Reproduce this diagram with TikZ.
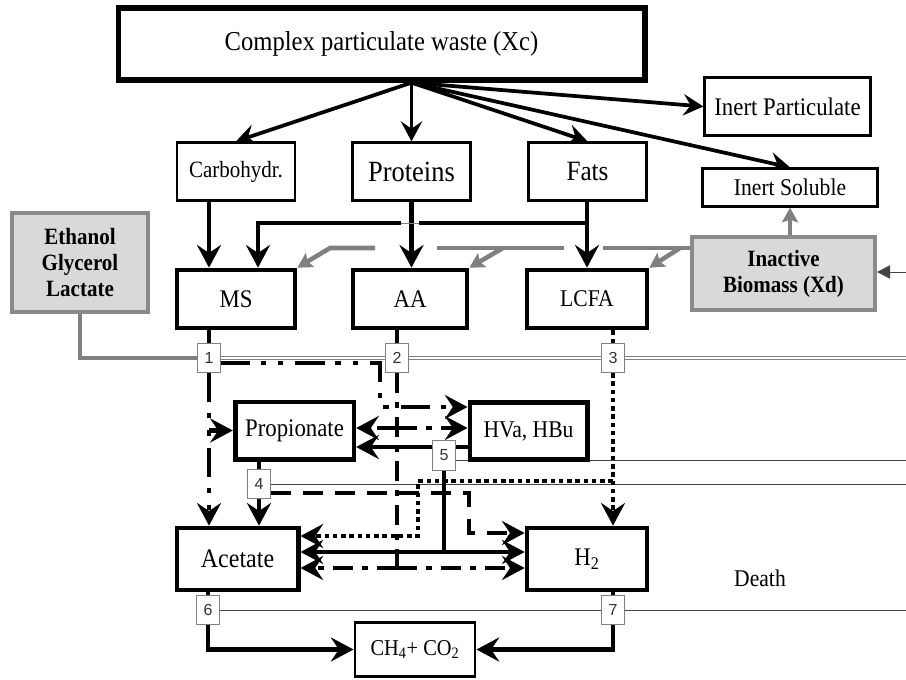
\documentclass[tikz,border=0pt]{standalone}
\usepackage{fontspec}
\setmainfont{Liberation Serif}[FakeStretch=0.9]
\setsansfont{Liberation Sans}
\usetikzlibrary{arrows.meta, calc, backgrounds}
\definecolor{linegray}{HTML}{808080}
\definecolor{boxgray}{HTML}{D9D9D9}
\definecolor{framegray}{HTML}{8A8A8A}
\definecolor{deathgray}{HTML}{444444}
\tikzset{
  bigbox/.style={
    rectangle, draw=black, line width=3.5pt, fill=white, inner sep=0pt,
    font=\fontsize{19}{20}\selectfont,
  },
  smallbox/.style={
    rectangle, draw=black, line width=2.2pt, fill=white, inner sep=0pt,
    font=\fontsize{18}{20}\selectfont,
  },
  extbox/.style={
    rectangle, draw=framegray, line width=3pt, fill=boxgray, inner sep=0pt,
    align=center, font=\bfseries\fontsize{17.5}{19.5}\selectfont,
  },
  numbox/.style={
    rectangle, draw=gray, line width=0.6pt, fill=white, inner sep=0pt,
    minimum width=17pt, minimum height=22pt,
    font=\sffamily\fontsize{12}{12}\selectfont, text=black!80,
  },
  headarrow/.style={-{Stealth[length=17pt, width=18pt, inset=6pt]}},
  hydro/.style={line width=2.8pt, -{Stealth[length=15pt, width=16pt, inset=5.5pt]}},
  thickline/.style={line width=3.4pt},
  gapline/.style={draw=linegray, line width=0.4pt},
  grayline/.style={draw=linegray, line width=3.4pt},
  graytip/.style={-{Stealth[length=11pt, width=12pt, inset=2pt]}},
  deathline/.style={draw=deathgray, line width=0.7pt},
  deathdouble/.style={draw=gray, line width=0.6pt, double=white, double distance=1.6pt},
  mspath/.style={line width=3.4pt, dash pattern=on 22pt off 8pt on 4pt off 9pt on 4pt off 9pt},
  aapath/.style={line width=3.4pt, dash pattern=on 15pt off 7pt on 4pt off 7pt},
  lcfapath/.style={line width=3.4pt, dash pattern=on 3.4pt off 2.8pt},
  proppath/.style={line width=3.4pt, dash pattern=on 15pt off 9pt},
}

\begin{document}
\begin{tikzpicture}[x=0.75pt, y=-0.75pt]
  \useasboundingbox (0,0) rectangle (906,679);

  % substrates
  \node[bigbox, line width=4pt, minimum width=395pt, minimum height=54pt, font=\fontsize{20.5}{22}\selectfont] (xc) at (381.5,44) {Complex particulate waste (Xc)};
  \node[smallbox, minimum width=124pt, minimum height=43pt, font=\fontsize{19}{20}\selectfont] (inpart) at (787.5,106.5) {Inert Particulate};
  \node[smallbox, minimum width=88.5pt, minimum height=43pt, font=\fontsize{17.5}{20}\selectfont] (carb) at (236,171.5) {Carbohydr.};
  \node[smallbox, minimum width=88pt, minimum height=43pt, font=\fontsize{22}{22}\selectfont] (prot) at (411.5,171.5) {Proteins};
  \node[smallbox, minimum width=89pt, minimum height=43pt, font=\fontsize{21}{22}\selectfont] (fats) at (587.5,171.5) {Fats};
  \node[smallbox, minimum width=131pt, minimum height=28pt] (insol) at (790,187.5) {Inert Soluble};
  \node[extbox, minimum width=102pt, minimum height=74pt] (etoh) at (80,262.5) {Ethanol\\Glycerol\\Lactate};
  \node[extbox, minimum width=137pt, minimum height=55pt] (bio) at (783.5,273.5) {Inactive\\Biomass (Xd)};

  % monomers
  \node[bigbox, minimum width=88.5pt, minimum height=43.5pt] (ms) at (236,299) {MS};
  \node[bigbox, minimum width=85.5pt, minimum height=43.5pt] (aa) at (410,299) {AA};
  \node[bigbox, minimum width=90pt, minimum height=43.5pt, font=\fontsize{18}{20}\selectfont] (lcfa) at (587,299) {LCFA};

  % process numbers
  \node[numbox] (n1) at (209,358) {1};
  \node[numbox] (n2) at (397,358) {2};
  \node[numbox] (n3) at (613,358) {3};
  \node[numbox] (n4) at (259,484) {4};
  \node[numbox] (n5) at (444,455.5) {5};
  \node[numbox] (n6) at (208,610) {6};
  \node[numbox] (n7) at (613,610) {7};

  % intermediates and products
  \node[bigbox, minimum width=89pt, minimum height=43pt] (prop) at (294.5,430.5) {Propionate};
  \node[bigbox, minimum width=88pt, minimum height=43pt, font=\fontsize{18}{20}\selectfont] (hva) at (528.5,431) {HVa, HBu};
  \node[bigbox, minimum width=91pt, minimum height=46.5pt, font=\fontsize{20}{20}\selectfont] (ace) at (237.5,559) {Acetate};
  \node[bigbox, minimum width=90pt, minimum height=46.5pt] (h2) at (587,559) {H\textsubscript{2}};
  \node[smallbox, minimum width=90pt, minimum height=40pt, font=\fontsize{17}{20}\selectfont] (ch4) at (415,649.5) {CH\textsubscript{4}+ CO\textsubscript{2}};
  \node[font=\fontsize{18}{20}\selectfont] (death) at (760,578) {Death};

  % helper points
  \coordinate (edge1) at (906,358);
  \coordinate (edge2) at (906,460);
  \coordinate (edge3) at (906,484);
  \coordinate (edge4) at (906,610);
  \coordinate (edge5) at (906,272);
  \coordinate (fatsjoin) at (587,223);
  \coordinate (fatsgap1) at (419,223);
  \coordinate (fatsgap2) at (401,223);
  \coordinate (gstart) at (692,248);
  \coordinate (ggap1a) at (603,248);
  \coordinate (ggap1b) at (564,248);
  \coordinate (ggap2a) at (437,248);
  \coordinate (ggap2b) at (375,248);
  \coordinate (gbr1) at (680,248);
  \coordinate (gbr2) at (503,248);
  \coordinate (gbr3) at (330,248);
  \coordinate (msturn) at (380,407);
  \coordinate (aasplit) at (397,428);
  \coordinate (aalow) at (397,568);
  \coordinate (lcfaturn) at (418,481);
  \coordinate (lcfalow) at (418,536);
  \coordinate (propturn) at (469,533);
  \coordinate (hvalow) at (444,552);

  \begin{scope}[on background layer]
    \fill[white] (0,0) rectangle (906,679);

    % disintegration
    \draw[hydro] (xc.south -| prot) -- (carb.north);
    \draw[hydro] (xc.south -| prot) -- (prot.north);
    \draw[hydro] (xc.south -| prot) -- (fats.north);
    \draw[hydro] (xc.south -| prot) -- (inpart.west);
    \draw[hydro] (xc.south -| prot) -- (insol.north);

    % hydrolysis
    \draw[thickline, headarrow] (carb.south -| n1) -- (ms.north -| n1);
    \draw[thickline, headarrow] (prot.south) -- (prot.south |- aa.north);
    \draw[thickline, headarrow] (fats.south -| lcfa) -- (lcfa.north);
    \draw[thickline] (fatsjoin) -- (fatsgap1);
    \draw[gapline] (fatsgap1) -- (fatsgap2);
    \draw[thickline, headarrow] (fatsgap2) -| ($(ms.north)+(22,0)$);

    % decay products
    \draw[grayline] (gstart) -- (ggap1a);
    \draw[grayline] (ggap1b) -- (ggap2a);
    \draw[grayline, graytip] (ggap2b) -- (gbr3) -- (ms.north east);
    \draw[grayline, graytip] (gbr2) -- (aa.north east);
    \draw[grayline, graytip] (gbr1) -- (lcfa.north east);
    \draw[grayline, graytip] (insol.south |- bio.north) -- (insol.south);
    \draw[grayline] (etoh.south) |- (n1.west);

    % death
    \draw[deathdouble] (n1.east) -- (n2.west);
    \draw[deathdouble] (n2.east) -- (n3.west);
    \draw[deathdouble] (n3.east) -- (edge1);
    \draw[deathline] (n5.east |- edge2) -- (edge2);
    \draw[deathline] (n4.east) -- (edge3);
    \draw[deathline] (n6.east) -- (n7.west);
    \draw[deathline] (n7.east) -- (edge4);
    \draw[deathline, -{Triangle[length=10pt, width=10pt]}] (edge5) -- (edge5 -| bio.east);

    % process 1
    \draw[thickline] (ms.south -| n1) -- (n1.north);
    \draw[mspath, headarrow] (n1.south) -- (n1.south |- ace.north);
    \draw[mspath, headarrow] (n1.south |- prop.west) -- (prop.west);
    \draw[mspath, headarrow] ($(n1.east)+(0,5)$) -| (msturn) -- (msturn -| hva.west);

    % process 2
    \draw[thickline] (aa.south -| n2) -- (n2.north);
    \draw[aapath] (n2.south) -- (aalow);
    \draw[aapath, headarrow] (aasplit) -- (aasplit -| prop.east);
    \draw[aapath, headarrow] (aasplit) -- (aasplit -| hva.west);
    \draw[aapath, headarrow] (aalow) -- (aalow -| ace.east);
    \draw[aapath, headarrow] (aalow) -- (aalow -| h2.west);

    % process 3
    \draw[lcfapath] (lcfa.south -| n3) -- (n3.north);
    \draw[lcfapath, headarrow] (n3.south) -- (n3.south |- h2.north);
    \draw[lcfapath, headarrow] (lcfaturn -| n3) -- (lcfaturn) -- (lcfalow) -- (lcfalow -| ace.east);

    % process 4
    \draw[thickline] (prop.south -| n4) -- (n4.north);
    \draw[thickline, headarrow] (n4.south) -- (n4.south |- ace.north);
    \draw[proppath, headarrow] ($(n4.east)+(0,9)$) -| (propturn) -- (propturn -| h2.west);

    % process 5
    \draw[thickline, headarrow] ($(hva.west)+(0,16)$) -- ($(prop.east)+(0,16.5)$);
    \draw[thickline] (n5.south) -- (hvalow);
    \draw[thickline, headarrow] (hvalow) -- (hvalow -| ace.east);
    \draw[thickline, headarrow] (hvalow) -- (hvalow -| h2.west);

    % methanogenesis
    \draw[thickline] (ace.south -| n6) -- (n6.north);
    \draw[thickline, headarrow] (n6.south) |- (ch4.west);
    \draw[thickline] (h2.south -| n7) -- (n7.north);
    \draw[thickline, headarrow] (n7.south) |- (ch4.east);
  \end{scope}

\end{tikzpicture}
\end{document}
